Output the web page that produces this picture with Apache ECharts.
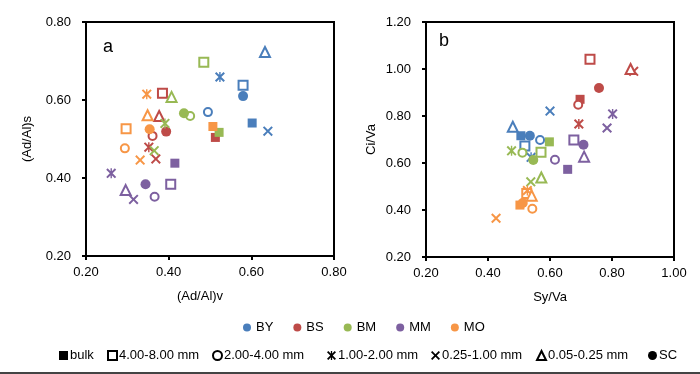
<!DOCTYPE html>
<html>
<head>
<meta charset="utf-8">
<script src="https://cdn.jsdelivr.net/npm/echarts@6/dist/echarts.min.js"></script>
<style>
html,body{margin:0;padding:0;background:#fff;}
#c{width:700px;height:374px;}
</style>
</head>
<body>
<div id="c"></div>
<script>
// ---- data ----
const groups = ['BY', 'BS', 'BM', 'MM', 'MO'];
const groupColors = ['#4A7EBB', '#BE4B48', '#98B954', '#7D60A0', '#F79646'];
const fractions = ['bulk', '4.00-8.00 mm', '2.00-4.00 mm', '1.00-2.00 mm', '0.25-1.00 mm', '0.05-0.25 mm', 'SC'];

// chart a: x = (Ad/Al)v, y = (Ad/Al)s ; order follows `fractions`
const BY_a_x = [0.602, 0.580, 0.495, 0.524, 0.640, 0.633, 0.580];
const BY_a_y = [0.541, 0.638, 0.569, 0.659, 0.520, 0.723, 0.610];
const BS_a_x = [0.513, 0.385, 0.361, 0.352, 0.369, 0.377, 0.394];
const BS_a_y = [0.504, 0.617, 0.508, 0.479, 0.449, 0.559, 0.519];
const BM_a_x = [0.522, 0.485, 0.452, 0.391, 0.365, 0.407, 0.437];
const BM_a_y = [0.517, 0.697, 0.559, 0.540, 0.470, 0.608, 0.566];
const MM_a_x = [0.415, 0.405, 0.366, 0.261, 0.315, 0.296, 0.344];
const MM_a_y = [0.438, 0.384, 0.352, 0.412, 0.345, 0.369, 0.384];
const MO_a_x = [0.507, 0.297, 0.294, 0.347, 0.331, 0.349, 0.354];
const MO_a_y = [0.532, 0.526, 0.476, 0.615, 0.446, 0.561, 0.525];

// chart b: x = Sy/Va, y = Ci/Va
const BY_b_x = [0.506, 0.519, 0.568, 0.539, 0.600, 0.480, 0.535];
const BY_b_y = [0.716, 0.672, 0.698, 0.624, 0.821, 0.754, 0.716];
const BS_b_x = [0.697, 0.729, 0.691, 0.693, 0.870, 0.860, 0.758];
const BS_b_y = [0.871, 1.041, 0.848, 0.766, 0.990, 1.000, 0.919];
const BM_b_x = [0.598, 0.571, 0.511, 0.476, 0.538, 0.572, 0.546];
const BM_b_y = [0.690, 0.646, 0.644, 0.652, 0.520, 0.538, 0.613];
const MM_b_x = [0.657, 0.677, 0.616, 0.802, 0.784, 0.710, 0.708];
const MM_b_y = [0.573, 0.698, 0.614, 0.809, 0.749, 0.627, 0.678];
const MO_b_x = [0.503, 0.525, 0.543, 0.527, 0.426, 0.541, 0.512];
const MO_b_y = [0.421, 0.470, 0.405, 0.483, 0.365, 0.461, 0.430];

const aTicks = [0.20, 0.40, 0.60, 0.80];
const bXTicks = [0.20, 0.40, 0.60, 0.80, 1.00];
const bYTicks = [0.20, 0.40, 0.60, 0.80, 1.00, 1.20];

// ---- styling ----
const FONT = 'Liberation Sans, Arial, sans-serif';
const X_PATH = 'path://M0,1.4L1.4,0L5,3.6L8.6,0L10,1.4L6.4,5L10,8.6L8.6,10L5,6.4L1.4,10L0,8.6L3.6,5Z';
const AST_PATH = 'path://M0,1.4L1.4,0L5,3.6L8.6,0L10,1.4L6.4,5L10,8.6L8.6,10L5,6.4L1.4,10L0,8.6L3.6,5ZM4.3,0L5.7,0L5.7,10L4.3,10Z';
const SYMBOLS = ['rect', 'emptyRect', 'emptyCircle', AST_PATH, X_PATH, 'emptyTriangle', 'circle'];
const SIZES = [9, 9, 8, 10, 10, 10, 10];
const EMPTY = [false, true, true, false, false, true, false];

const dataA = {BY: [BY_a_x, BY_a_y], BS: [BS_a_x, BS_a_y], BM: [BM_a_x, BM_a_y], MM: [MM_a_x, MM_a_y], MO: [MO_a_x, MO_a_y]};
const dataB = {BY: [BY_b_x, BY_b_y], BS: [BS_b_x, BS_b_y], BM: [BM_b_x, BM_b_y], MM: [MM_b_x, MM_b_y], MO: [MO_b_x, MO_b_y]};

function build(xs, ys, color) {
  return fractions.map((f, i) => {
    const d = {value: [xs[i], ys[i]], symbol: SYMBOLS[i], symbolSize: SIZES[i]};
    if (EMPTY[i]) d.itemStyle = {borderWidth: 2, borderColor: color, opacity: 1};
    return d;
  });
}

const series = [];
[0, 1].forEach(ci => {
  const src = ci === 0 ? dataA : dataB;
  groups.forEach((g, gi) => {
    series.push({
      type: 'scatter', name: g, xAxisIndex: ci, yAxisIndex: ci,
      itemStyle: {color: groupColors[gi], opacity: 1},
      data: build(src[g][0], src[g][1], groupColors[gi]),
      z: 3
    });
  });
});
// dummy series for the marker legend
fractions.forEach((f, i) => {
  series.push({
    type: 'scatter', name: f, xAxisIndex: 0, yAxisIndex: 0,
    symbol: SYMBOLS[i], itemStyle: {color: '#000', opacity: 1}, data: []
  });
});

function axisCommon(ticks, name, gap) {
  return {
    type: 'value', min: ticks[0], max: ticks[ticks.length - 1], interval: 0.2,
    name: name, nameLocation: 'middle', nameGap: gap,
    nameTextStyle: {color: '#000', fontSize: 13, fontFamily: FONT},
    axisLine: {show: true, onZero: false, lineStyle: {color: '#000', width: 2}},
    axisTick: {show: true, inside: false, length: 4, lineStyle: {color: '#000', width: 2}},
    axisLabel: {color: '#000', fontSize: 13, fontFamily: FONT, formatter: v => v.toFixed(2)},
    splitLine: {show: false}
  };
}

const xA = axisCommon(aTicks, '(Ad/Al)v', 34); xA.gridIndex = 0; xA.axisLabel.margin = 10; xA.nameTextStyle.padding = [0, 20, 0, 0];
const yA = axisCommon(aTicks, '(Ad/Al)s', 52); yA.gridIndex = 0; yA.axisLabel.margin = 15;
const xB = axisCommon(bXTicks, 'Sy/Va', 34); xB.gridIndex = 1; xB.axisLabel.margin = 10;
const yB = axisCommon(bYTicks, 'Ci/Va', 48); yB.gridIndex = 1; yB.axisLabel.margin = 15;

const markerLegendLeft = [54, 102, 207, 322, 426, 531, 643];
const markerLegends = fractions.map((f, i) => ({
  data: [f], left: markerLegendLeft[i], top: 344, orient: 'horizontal',
  itemWidth: 9, itemHeight: 9, itemGap: 0, selectedMode: false,
  textStyle: {color: '#000', fontSize: 13, fontFamily: FONT, padding: [0, 0, 0, -3]},
  itemStyle: {borderWidth: 1}
}));

const option = {
  backgroundColor: '#fff',
  animation: false,
  title: [
    {text: 'a', left: 98, top: 33, textStyle: {fontSize: 18, fontWeight: 'normal', color: '#000', fontFamily: FONT}},
    {text: 'b', left: 434, top: 27, textStyle: {fontSize: 18, fontWeight: 'normal', color: '#000', fontFamily: FONT}}
  ],
  grid: [
    {left: 86, top: 22, width: 248, height: 234, show: true, borderColor: '#000', borderWidth: 2, backgroundColor: 'transparent'},
    {left: 426, top: 22, width: 248, height: 235, show: true, borderColor: '#000', borderWidth: 2, backgroundColor: 'transparent'}
  ],
  xAxis: [xA, xB],
  yAxis: [yA, yB],
  legend: [{
    data: groups.map(g => ({name: g, icon: 'circle'})),
    left: 238, top: 316, itemWidth: 8, itemHeight: 8, itemGap: 20, selectedMode: false,
    textStyle: {color: '#000', fontSize: 13, fontFamily: FONT, width: 22}
  }].concat(markerLegends),
  graphic: [{
    type: 'line', shape: {x1: 0, y1: 373, x2: 700, y2: 373},
    style: {stroke: '#444', lineWidth: 2}, silent: true
  }],
  series: series
};

const chart = echarts.init(document.getElementById('c'), null, {renderer: 'canvas'});
chart.setOption(option);
</script>
</body>
</html>
